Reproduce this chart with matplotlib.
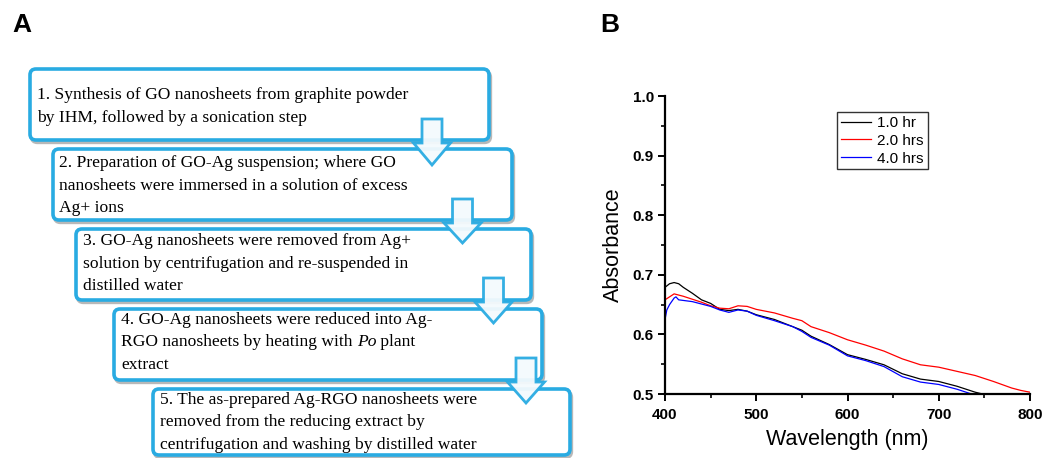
import matplotlib
matplotlib.use("Agg")
import matplotlib.pyplot as plt
from matplotlib.patches import FancyBboxPatch, Polygon
from matplotlib.ticker import MultipleLocator
import numpy as np

# ---------------- Data: panel B ----------------
wl_1h = [400, 405, 410, 415, 420, 430, 440, 450, 460, 470, 480, 490, 500, 520, 540,
         550, 560, 580, 600, 620, 640, 660, 680, 700, 720, 740, 748, 752]
abs_1h = [0.679, 0.685, 0.687, 0.685, 0.679, 0.669, 0.658, 0.652, 0.642, 0.640, 0.642,
          0.639, 0.633, 0.625, 0.613, 0.607, 0.597, 0.583, 0.566, 0.558, 0.549, 0.534,
          0.525, 0.521, 0.513, 0.503, 0.500, 0.498]

wl_2h = [400, 405, 410, 415, 420, 430, 440, 450, 460, 470, 480, 490, 500, 520, 540,
         550, 560, 580, 600, 620, 640, 660, 680, 700, 720, 740, 760, 780, 790, 800]
abs_2h = [0.658, 0.663, 0.668, 0.666, 0.664, 0.659, 0.654, 0.648, 0.644, 0.643, 0.648,
          0.647, 0.642, 0.636, 0.627, 0.623, 0.613, 0.603, 0.591, 0.582, 0.572, 0.559,
          0.549, 0.545, 0.538, 0.531, 0.521, 0.510, 0.506, 0.503]

wl_4h = [400, 402, 405, 410, 412, 415, 420, 430, 440, 450, 460, 470, 480, 490, 500,
         520, 540, 550, 560, 580, 600, 620, 640, 660, 680, 700, 720, 736, 740]
abs_4h = [0.625, 0.641, 0.650, 0.661, 0.663, 0.658, 0.657, 0.655, 0.651, 0.647, 0.641,
          0.637, 0.641, 0.639, 0.632, 0.623, 0.613, 0.605, 0.595, 0.582, 0.564, 0.556,
          0.546, 0.529, 0.520, 0.516, 0.508, 0.500, 0.498]

series_labels = ["1.0 hr", "2.0 hrs", "4.0 hrs"]
series_colors = ["black", "red", "blue"]
x_ticks = [400, 500, 600, 700, 800]
y_ticks = [0.5, 0.6, 0.7, 0.8, 0.9, 1.0]

# ---------------- Data: panel A (flowchart text) ----------------
step_lines = [
    ["1. Synthesis of GO nanosheets from graphite powder",
     "by IHM, followed by a sonication step"],
    ["2. Preparation of GO-Ag suspension; where GO",
     "nanosheets were immersed in a solution of excess",
     "Ag+ ions"],
    ["3. GO-Ag nanosheets were removed from Ag+",
     "solution by centrifugation and re-suspended in",
     "distilled water"],
    ["4. GO-Ag nanosheets were reduced into Ag-",
     "RGO nanosheets by heating with |Po| plant",
     "extract"],
    ["5. The as-prepared Ag-RGO nanosheets were",
     "removed from the reducing extract by",
     "centrifugation and washing by distilled water"],
]

W, H = 1049, 458
fig = plt.figure(figsize=(W / 100, H / 100), dpi=100)

# ---------------- Panel A ----------------
axA = fig.add_axes([0, 0, 1, 1])
axA.set_xlim(0, W)
axA.set_ylim(H, 0)
axA.axis("off")

cyan = "#29abe2"
# (left, top, right, bottom)
boxes = [(30, 69, 489, 140), (53, 149, 512, 220), (76, 229, 531, 300),
         (114, 309, 542, 380), (153, 389, 570, 455)]
text_left = [37, 59, 83, 121, 160]
first_line_y = [95, 163, 241, 320, 400]
line_step = 22.5
# arrows: (center x, shaft top, head start y, tip y)
arrows = [(432, 119, 143, 165), (462.5, 199, 223, 243), (493.5, 278, 302, 323),
          (526, 358, 382, 403)]

for (l, t, r, b) in boxes:
    shadow = FancyBboxPatch((l + 1.5, t + 2.5), r - l, b - t,
                            boxstyle="round,pad=0,rounding_size=6",
                            facecolor="none", edgecolor="#9a9a9a", linewidth=2.4,
                            alpha=0.7, zorder=1)
    axA.add_patch(shadow)
    box = FancyBboxPatch((l, t), r - l, b - t,
                         boxstyle="round,pad=0,rounding_size=6",
                         facecolor="white", edgecolor=cyan, linewidth=2.6, zorder=2)
    axA.add_patch(box)

fig.canvas.draw()
renderer = fig.canvas.get_renderer()
inv = axA.transData.inverted()

serif = "Liberation Serif"
fs = 12.6
for lines, x0, y0 in zip(step_lines, text_left, first_line_y):
    for i, line in enumerate(lines):
        y = y0 + i * line_step
        parts = line.split("|")
        x = x0
        for k, part in enumerate(parts):
            if part == "":
                continue
            style = "italic" if k % 2 == 1 else "normal"
            txt = axA.text(x, y, part, fontsize=fs, family=serif, style=style,
                           ha="left", va="center", color="black", zorder=3)
            bb = txt.get_window_extent(renderer=renderer)
            x = inv.transform((bb.x1, bb.y0))[0]

for (cx, top, hy, tip) in arrows:
    sw, hw = 10, 18.5
    pts = [(cx - sw, top), (cx + sw, top), (cx + sw, hy), (cx + hw, hy),
           (cx, tip), (cx - hw, hy), (cx - sw, hy)]
    poly = Polygon(pts, closed=True, facecolor="#f4fafd", edgecolor=cyan,
                   linewidth=2.0, alpha=0.95, zorder=4, joinstyle="miter")
    axA.add_patch(poly)

fig.text(12 / W, 1 - 25 / H, "A", fontsize=19, fontweight="bold",
         family="Liberation Sans", ha="left", va="center")
fig.text(600 / W, 1 - 25 / H, "B", fontsize=19, fontweight="bold",
         family="Liberation Sans", ha="left", va="center")

# ---------------- Panel B ----------------
left, right, top, bottom = 665, 1030, 96, 394
axB = fig.add_axes([left / W, 1 - bottom / H, (right - left) / W, (bottom - top) / H])
for wl, ab, lab, col in zip([wl_1h, wl_2h, wl_4h], [abs_1h, abs_2h, abs_4h],
                            series_labels, series_colors):
    axB.plot(wl, ab, color=col, linewidth=0.9, label=lab)

axB.set_xlim(400, 800)
axB.set_ylim(0.5, 1.0)
axB.set_xticks(x_ticks)
axB.set_yticks(y_ticks)
axB.set_yticklabels([f"{v:.1f}" for v in y_ticks])
axB.xaxis.set_minor_locator(MultipleLocator(50))
axB.yaxis.set_minor_locator(MultipleLocator(0.05))
for s in ["top", "right"]:
    axB.spines[s].set_visible(False)
for s in ["left", "bottom"]:
    axB.spines[s].set_linewidth(1.6)
axB.tick_params(which="major", direction="out", length=5, width=1.4, pad=3)
axB.tick_params(which="minor", direction="out", length=3, width=1.2)
for lbl in axB.get_xticklabels() + axB.get_yticklabels():
    lbl.set_family("Liberation Sans")
    lbl.set_fontweight("bold")
    lbl.set_fontsize(11)
axB.tick_params(axis="x", pad=5)
axB.set_xlabel("Wavelength (nm)", fontsize=15.5, family="Liberation Sans", labelpad=5)
axB.set_ylabel("Absorbance", fontsize=15.5, family="Liberation Sans", labelpad=6)

leg = axB.legend(loc="upper left", bbox_to_anchor=(0.471, 0.946), borderaxespad=0,
                 frameon=True, fancybox=False, edgecolor="black",
                 prop={"family": "Liberation Sans", "size": 11},
                 handlelength=2.0, handletextpad=0.4, labelspacing=0.25,
                 borderpad=0.25)
leg.get_frame().set_linewidth(1.0)

fig.savefig("out.png", dpi=100)
